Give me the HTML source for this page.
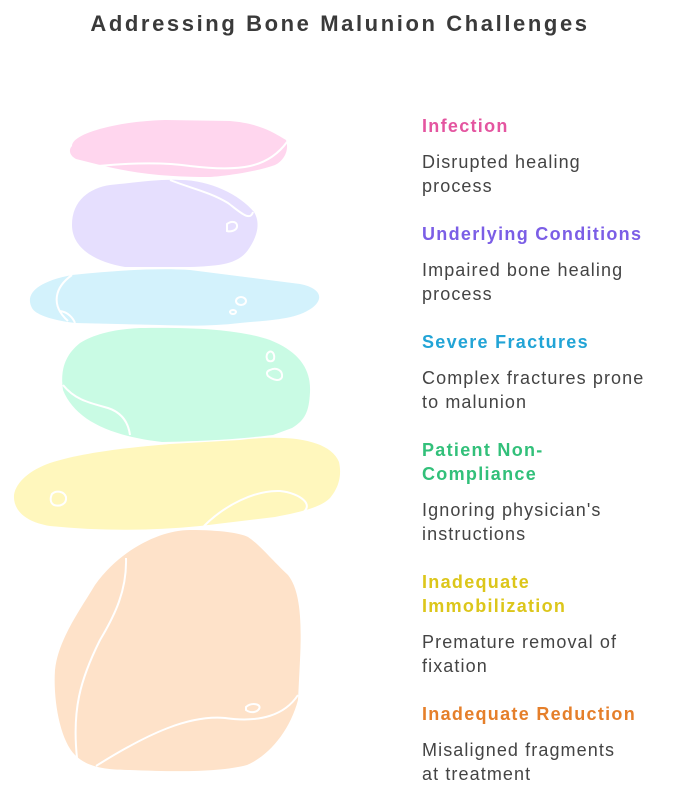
<!DOCTYPE html>
<html><head><meta charset="utf-8"><style>
body{margin:0;background:#fff;width:680px;height:794px;overflow:hidden;position:relative;font-family:"Liberation Sans",sans-serif}
.t{position:absolute;left:0;width:680px;text-align:center;top:11px;font-size:22px;font-weight:bold;color:#3a3a3a;letter-spacing:2.6px}
.h{position:absolute;left:422px;font-size:18px;font-weight:bold;line-height:24px;letter-spacing:1.3px;white-space:nowrap}
.d{position:absolute;left:422px;font-size:18px;color:#444;line-height:24px;letter-spacing:1.1px;white-space:nowrap}
</style></head><body>
<div class="t">Addressing Bone Malunion Challenges</div>
<svg width="680" height="794" style="position:absolute;left:0;top:0">
<g stroke="#fff" stroke-width="2" fill="none">
<path fill="#ffd6ee" stroke="none" d="M72 146 C72 133 120 121 165 120 L230 121 C255 123 270 130 286 140 C290 152 282 162 275 165 C255 172 225 176 210 177 C175 177 140 175 100 165 L76 159 C70 156 68 150 72 146Z"/>
<path d="M98 166 C140 162 170 163 190 166 C240 172 268 168 287 142"/>
<path fill="#e6dffe" stroke="none" d="M110 185 C140 182 160 179 180 180 C210 180 240 195 254 212 C262 225 255 240 248 250 C238 264 220 266 190 267 L125 267 C95 262 72 248 72 225 C72 200 90 188 110 185Z"/>
<path d="M170 180 C190 188 210 192 228 203 C240 212 250 222 253 212"/>
<path d="M227 224 C232 220 238 222 237 227 C236 231 230 232 227 231Z"/>
<path fill="#d3f2fc" stroke="none" d="M72 275 C120 270 160 268 190 270 L300 284 C320 288 325 298 312 308 C295 320 270 320 240 323 C215 326 190 326 160 325 L75 323 C50 320 35 314 32 308 C25 295 35 282 72 275Z"/>
<path d="M72 275 C55 287 50 305 68 321 M60 311 C68 312 73 318 75 323"/>
<ellipse cx="241" cy="301" rx="5" ry="4"/><ellipse cx="233" cy="312" rx="3" ry="2"/>
<path fill="#c9fbe4" stroke="none" d="M140 328 C200 327 240 330 270 340 C300 352 311 370 310 392 C309 412 305 420 292 428 L273 435 C230 440 200 441 162 442 C110 436 75 420 63 390 C60 370 65 355 80 343 C98 332 120 329 140 328Z"/>
<path d="M63 385 C75 400 90 403 108 408 C120 412 128 420 130 435"/>
<path d="M269 352 C272 350 275 354 274 359 C273 362 268 362 267 359 C266 356 267 353 269 352Z M270 370 C276 367 283 370 282 377 C280 382 273 380 268 376 C266 373 267 371 270 370Z"/>
<path fill="#fff7bd" stroke="none" d="M50 463 C90 450 150 446 170 444 L240 440 C290 434 330 440 339 462 C343 480 335 492 330 498 C320 508 300 512 275 517 L200 526 C150 531 100 531 50 526 C25 522 13 510 14 495 C16 482 30 470 50 463Z"/>
<path d="M204 526 C225 505 255 490 280 491 C300 493 315 505 302 513"/>
<path d="M52 494 C56 490 64 491 66 497 C67 504 60 507 54 505 C50 503 50 498 52 494Z"/>
<path fill="#fee2c9" stroke="none" d="M190 530 C220 530 240 533 248 537 C260 545 270 558 288 575 C300 590 302 620 300 660 L298 700 C290 730 270 755 247 765 C220 772 180 772 130 770 C100 770 85 765 75 755 C60 740 53 700 55 670 C58 640 80 610 95 585 C120 550 160 530 190 530Z"/>
<path d="M126 558 C127 590 115 615 100 640 C80 680 72 710 77 758"/>
<path d="M96 766 C150 732 190 715 225 718 C260 723 285 715 298 695"/>
<path d="M246 707 C252 702 262 704 259 709 C256 713 250 713 246 710Z"/>
</g></svg>
<div class="h" style="top:114px;color:#e455a0">Infection</div>
<div class="d" style="top:150px">Disrupted healing<br>process</div>
<div class="h" style="top:222px;color:#7b5ee6">Underlying Conditions</div>
<div class="d" style="top:258px">Impaired bone healing<br>process</div>
<div class="h" style="top:330px;color:#22a4d6">Severe Fractures</div>
<div class="d" style="top:366px">Complex fractures prone<br>to malunion</div>
<div class="h" style="top:438px;color:#32c07a">Patient Non-<br>Compliance</div>
<div class="d" style="top:498px">Ignoring physician's<br>instructions</div>
<div class="h" style="top:570px;color:#dcc61a">Inadequate<br>Immobilization</div>
<div class="d" style="top:630px">Premature removal of<br>fixation</div>
<div class="h" style="top:702px;color:#e57f2a">Inadequate Reduction</div>
<div class="d" style="top:738px">Misaligned fragments<br>at treatment</div>
</body></html>
